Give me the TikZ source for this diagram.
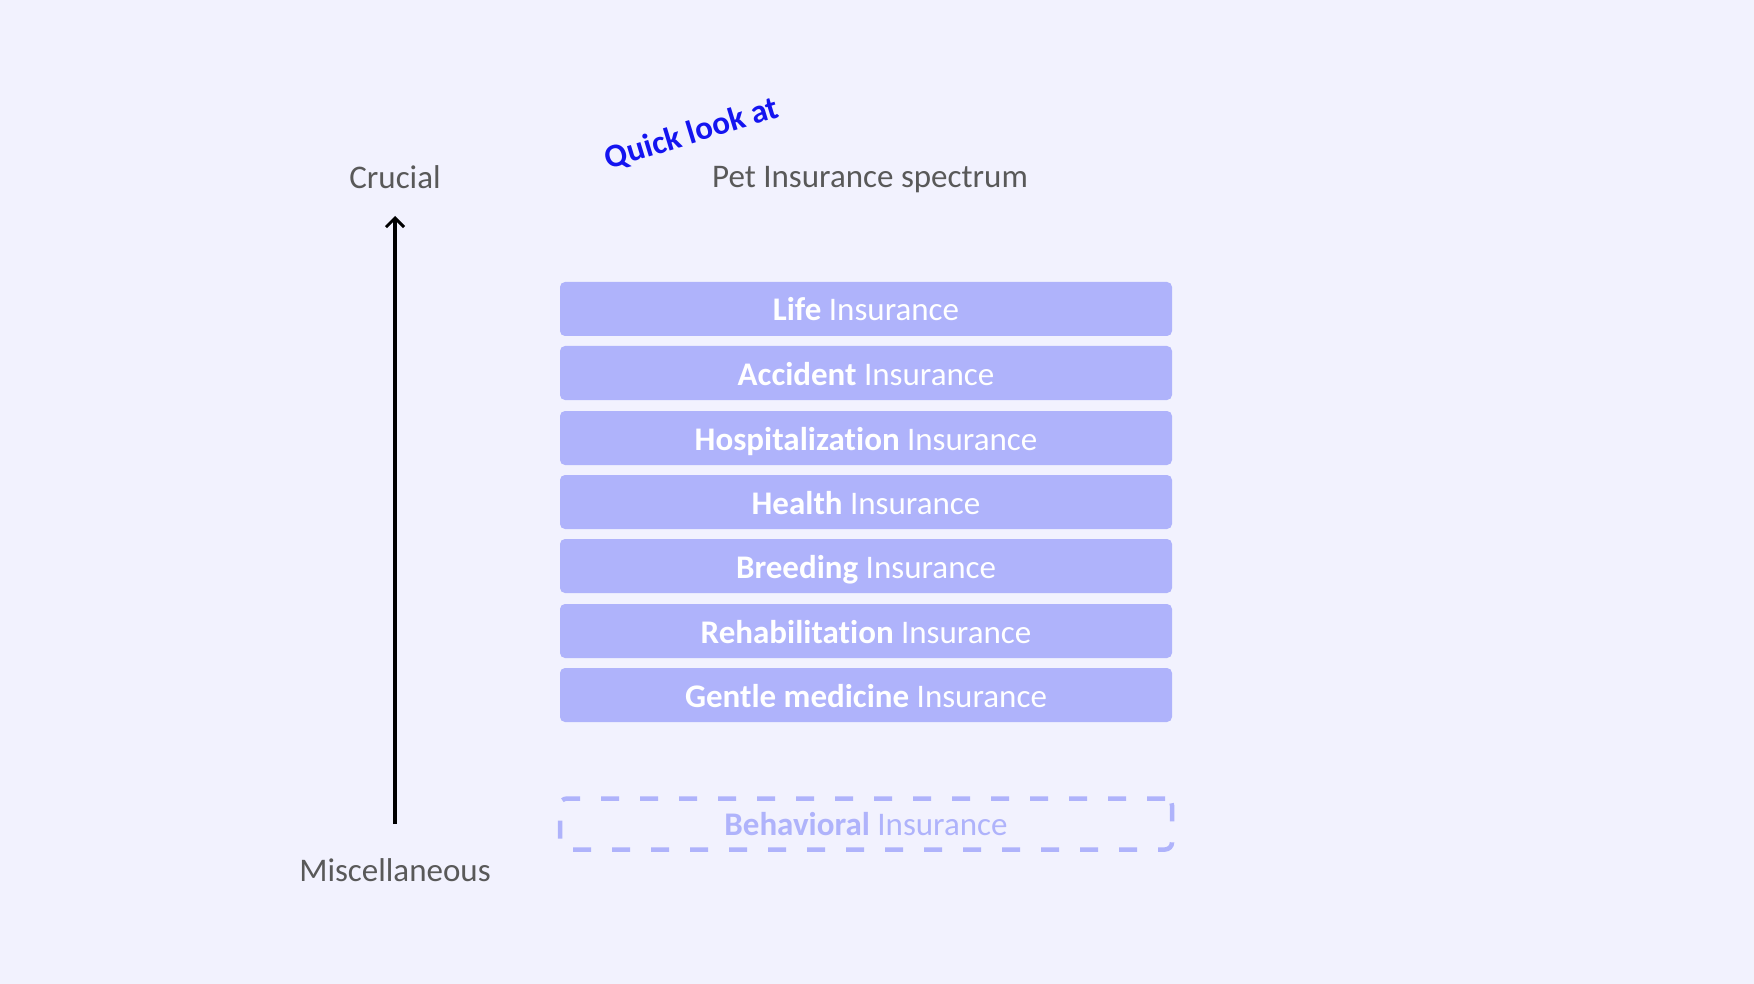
\documentclass[tikz,border=0pt]{standalone}
\usepackage{fontspec}
\setmainfont{Carlito}[RawFeature={-liga}]
\usetikzlibrary{arrows.meta}
\definecolor{bg}{HTML}{F2F2FE}
\definecolor{boxc}{HTML}{AFB3FB}
\definecolor{txt}{HTML}{595959}
\definecolor{qblue}{HTML}{1414F0}
\begin{document}
\begin{tikzpicture}[x=1pt,y=-1pt,
  tier/.style={fill=boxc, rounded corners=5pt, minimum width=612pt, minimum height=54pt, inner sep=0pt, text height=28pt, text depth=4pt, text=white, font=\fontsize{33}{38}\selectfont},
  ghost/.style={draw=boxc, dash pattern=on 18pt off 21pt, line width=4.5pt, rounded corners=7pt, minimum width=612pt, minimum height=51pt, inner sep=0pt, text height=26pt, text depth=4pt, text=boxc, font=\fontsize{33}{38}\selectfont},
  lab/.style={text=txt, font=\fontsize{33}{38}\selectfont, inner sep=0pt}]
\fill[bg] (0,0) rectangle (1754,984);
\useasboundingbox (0,0) rectangle (1754,984);
\node[tier] (t1) at (866,309) {\textbf{Life} Insurance};
\node[tier] (t2) at (866,373) {\textbf{Accident} Insurance};
\node[tier] (t3) at (866,438) {\textbf{Hospitalization} Insurance};
\node[tier] (t4) at (866,502) {\textbf{Health} Insurance};
\node[tier] (t5) at (866,566) {\textbf{Breeding} Insurance};
\node[tier] (t6) at (866,631) {\textbf{Rehabilitation} Insurance};
\node[tier] (t7) at (866,695) {\textbf{Gentle medicine} Insurance};
\node[ghost] (t8) at (866,824) {\textbf{Behavioral} Insurance};
\node[lab] (top) at (395,177) {Crucial};
\node[lab] (bot) at (395,870) {Miscellaneous};
\node[lab] (title) at (870,180) {Pet Insurance spectrum};
\node[text=qblue, font=\bfseries\fontsize{33}{38}\selectfont, rotate=17, inner sep=0pt] (quick) at (692,134) {Quick look at};
\coordinate (abot) at (395,824);
\coordinate (atop) at (395,216);
\draw[line width=3.5pt, -{Straight Barb[length=9pt,width=18pt,line width=3pt]}] (abot) -- (atop);
\end{tikzpicture}
\end{document}
